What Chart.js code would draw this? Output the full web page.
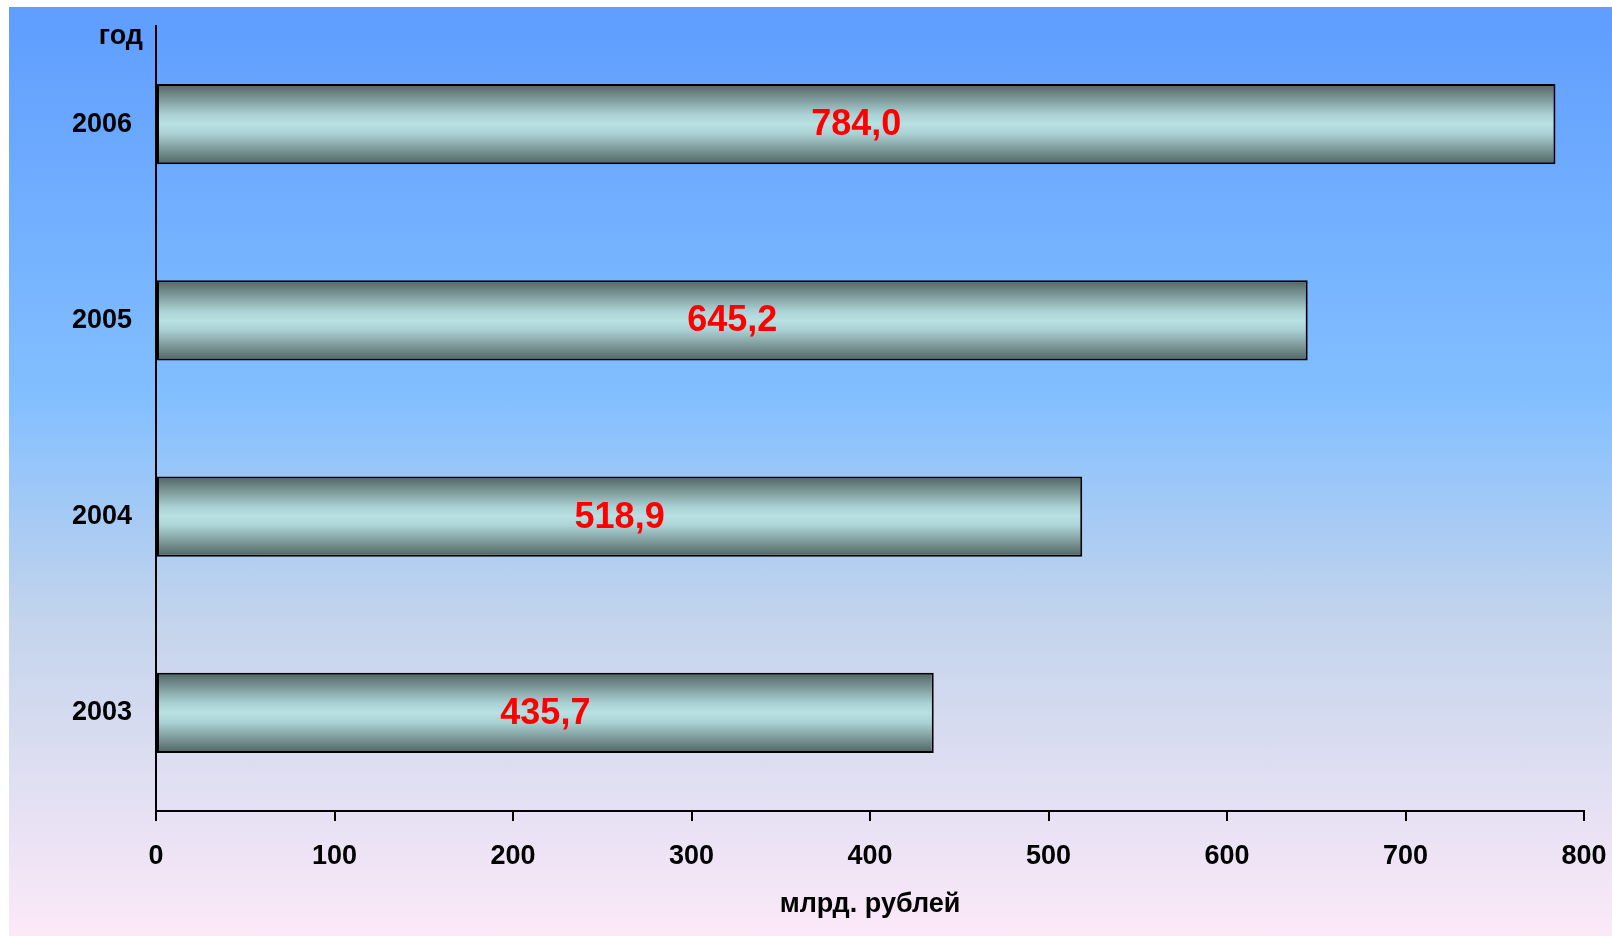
<!DOCTYPE html>
<html lang="ru">
<head>
  <meta charset="UTF-8">
  <title>Доходы, млрд. рублей</title>
  <script src="https://cdn.jsdelivr.net/npm/chart.js"></script>
  <style>
    html, body {
      margin: 0;
      padding: 0;
      background: #fff;
      overflow: hidden;
    }
    .wrap {
      position: absolute;
      left: 9px;
      top: 7px;
      width: 1603px;
      height: 929px;
      background: linear-gradient(to bottom, #5f9dff 0%, #82bfff 42%, #c3d4ec 66%, #fce9f8 100%);
    }
  </style>
</head>
<body>
<div class="wrap">
  <canvas id="bar-chart" width="1603" height="929"></canvas>
</div>
<script>
// data
const years = ['2003', '2004', '2005', '2006'];
const values = [435.7, 518.9, 645.2, 784.0];
const xTicks = [0, 100, 200, 300, 400, 500, 600, 700, 800];
const xTitle = 'млрд. рублей';
const yTitle = 'год';

const FONT = "'Liberation Sans', Arial, sans-serif";
const BAR_PCT = 0.41;

// vertical "tube" shading for each bar
function barFill(ctx) {
  const chart = ctx.chart;
  const area = chart.chartArea;
  const y = chart.scales.y;
  if (!area || !y || ctx.dataIndex === undefined) return '#b9e0e3';
  const band = (area.bottom - area.top) / years.length * BAR_PCT;
  const mid = y.getPixelForValue(ctx.dataIndex);
  const g = chart.ctx.createLinearGradient(0, mid - band / 2, 0, mid + band / 2);
  g.addColorStop(0, '#4f6464');
  g.addColorStop(0.18, '#7c9797');
  g.addColorStop(0.38, '#aad1d4');
  g.addColorStop(0.5, '#b9e0e3');
  g.addColorStop(0.62, '#aad1d4');
  g.addColorStop(0.82, '#7c9797');
  g.addColorStop(1, '#4f6464');
  return g;
}

// red value labels inside the bars + the "год" caption above the axis
const labelPlugin = {
  id: 'labels',
  afterDatasetsDraw(chart) {
    const ctx = chart.ctx;
    const meta = chart.getDatasetMeta(0);
    ctx.save();
    ctx.font = 'bold 36px ' + FONT;
    ctx.fillStyle = '#ff0000';
    ctx.textAlign = 'center';
    ctx.textBaseline = 'middle';
    meta.data.forEach((bar, i) => {
      const txt = values[i].toFixed(1).replace('.', ',');
      ctx.fillText(txt, (bar.base + bar.x) / 2, bar.y + 1);
    });
    ctx.font = 'bold 27px ' + FONT;
    ctx.fillStyle = '#000';
    ctx.textAlign = 'right';
    ctx.fillText(yTitle, chart.chartArea.left - 13, chart.chartArea.top + 11);
    ctx.restore();
  }
};

new Chart(document.getElementById('bar-chart').getContext('2d'), {
  type: 'bar',
  data: {
    labels: years,
    datasets: [{
      data: values,
      backgroundColor: barFill,
      borderColor: '#000',
      borderWidth: 2,
      borderSkipped: false,
      categoryPercentage: 1,
      barPercentage: BAR_PCT
    }]
  },
  options: {
    indexAxis: 'y',
    responsive: false,
    animation: false,
    layout: {
      padding: { left: 0, right: 28, top: 19, bottom: 0 }
    },
    plugins: {
      legend: { display: false },
      tooltip: { enabled: false }
    },
    scales: {
      x: {
        min: xTicks[0],
        max: xTicks[xTicks.length - 1],
        afterBuildTicks: s => { s.ticks = xTicks.map(v => ({ value: v })); },
        afterFit: s => { s.height = 125; },
        grid: {
          drawOnChartArea: false,
          drawTicks: true,
          tickLength: 10,
          color: '#000',
          lineWidth: 2
        },
        border: { color: '#000', width: 2 },
        ticks: {
          color: '#000',
          padding: 0,
          maxRotation: 0,
          font: { family: FONT, size: 27, weight: 'bold', lineHeight: 2.65 }
        },
        title: {
          display: true,
          text: xTitle,
          color: '#000',
          padding: { top: 0, bottom: 15 },
          font: { family: FONT, size: 27, weight: 'bold' }
        }
      },
      y: {
        reverse: true,
        afterFit: s => { s.width = 147; },
        grid: {
          drawOnChartArea: false,
          drawTicks: true,
          tickLength: 24,
          tickColor: 'rgba(0,0,0,0)'
        },
        border: { color: '#000', width: 2 },
        ticks: {
          color: '#000',
          padding: 0,
          font: { family: FONT, size: 27, weight: 'bold' }
        }
      }
    }
  },
  plugins: [labelPlugin]
});
</script>
</body>
</html>
